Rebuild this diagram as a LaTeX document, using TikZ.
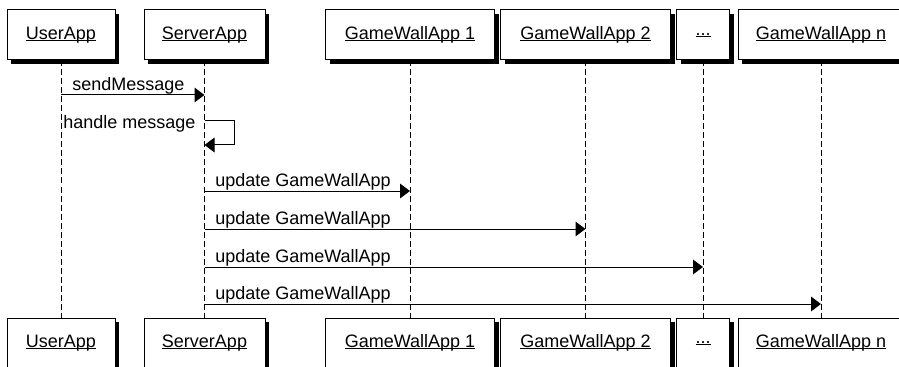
\documentclass[tikz,border=0pt]{standalone}
\usepackage{fontspec}
\setmainfont{Liberation Sans}
\usetikzlibrary{arrows.meta,shadows}
% underlined object name, rule just below the baseline
\newcommand{\objname}[1]{\setbox0\hbox{#1}\rlap{\rule[-1.3pt]{\wd0}{0.7pt}}\box0}
\begin{document}
\begin{tikzpicture}[x=0.75pt,y=-0.75pt,
  font=\fontsize{13.5}{16}\selectfont,
  obj/.style={draw=black, line width=0.75pt, fill=white, inner sep=0pt,
    minimum height=37.5pt, minimum width=#1*0.75pt,
    drop shadow={shadow xshift=3pt, shadow yshift=-3pt, fill=black, opacity=1}},
  life/.style={line width=0.75pt, dash pattern=on 4.5pt off 2.25pt},
  msg/.style={line width=0.75pt, -{Triangle[length=7.5pt,width=11pt]}},
  lbl/.style={anchor=base west, inner sep=0pt}]
\useasboundingbox (0,0) rectangle (899,367);
\clip (0,0) rectangle (899,367);

% object boxes, top row
\node[obj=108] (u)  at (61,35)    {\objname{UserApp}};
\node[obj=121] (s)  at (204.5,35) {\objname{ServerApp}};
\node[obj=169] (g1) at (410,35)   {\objname{GameWallApp 1}};
\node[obj=170] (g2) at (585.5,35) {\objname{GameWallApp 2}};
\node[obj=53]  (gd) at (703,35)   {\objname{...}};
\node[obj=166] (gn) at (821,35)   {\objname{GameWallApp n}};

% object boxes, bottom row
\node[obj=108] (ub)  at (61,343)    {\objname{UserApp}};
\node[obj=121] (sb)  at (204.5,343) {\objname{ServerApp}};
\node[obj=169] (g1b) at (410,343)   {\objname{GameWallApp 1}};
\node[obj=170] (g2b) at (585.5,343) {\objname{GameWallApp 2}};
\node[obj=53]  (gdb) at (703,343)   {\objname{...}};
\node[obj=166] (gnb) at (821,343)   {\objname{GameWallApp n}};

% lifelines
\draw[life] (u.south)  -- (ub.north);
\draw[life] (s.south)  -- (sb.north);
\draw[life] (g1.south) -- (g1b.north);
\draw[life] (g2.south) -- (g2b.north);
\draw[life] (gd.south) -- (gdb.north);
\draw[life] (gn.south) -- (gnb.north);

% message rows
\coordinate (m1) at (0,95);
\coordinate (m2) at (0,121);
\coordinate (m2r) at (0,145);
\coordinate (m3) at (0,191);
\coordinate (m4) at (0,229);
\coordinate (m5) at (0,267);
\coordinate (m6) at (0,304);

% messages
\draw[msg] (u.south |- m1) -- (s.south |- m1);
\draw[msg] (s.south |- m2) -- ++(30,0) |- (s.south |- m2r);
\draw[msg] (s.south |- m3) -- (g1.south |- m3);
\draw[msg] (s.south |- m4) -- (g2.south |- m4);
\draw[msg] (s.south |- m5) -- (gd.south |- m5);
\draw[msg] (s.south |- m6) -- (gn.south |- m6);

% message labels
\node[lbl] (t1) at (72,91)   {sendMessage};
\node[lbl] (t2) at (63,129)  {handle message};
\node[lbl] (t3) at (215,186) {update GameWallApp};
\node[lbl] (t4) at (215,224) {update GameWallApp};
\node[lbl] (t5) at (215,262) {update GameWallApp};
\node[lbl] (t6) at (215,299) {update GameWallApp};
\end{tikzpicture}
\end{document}
